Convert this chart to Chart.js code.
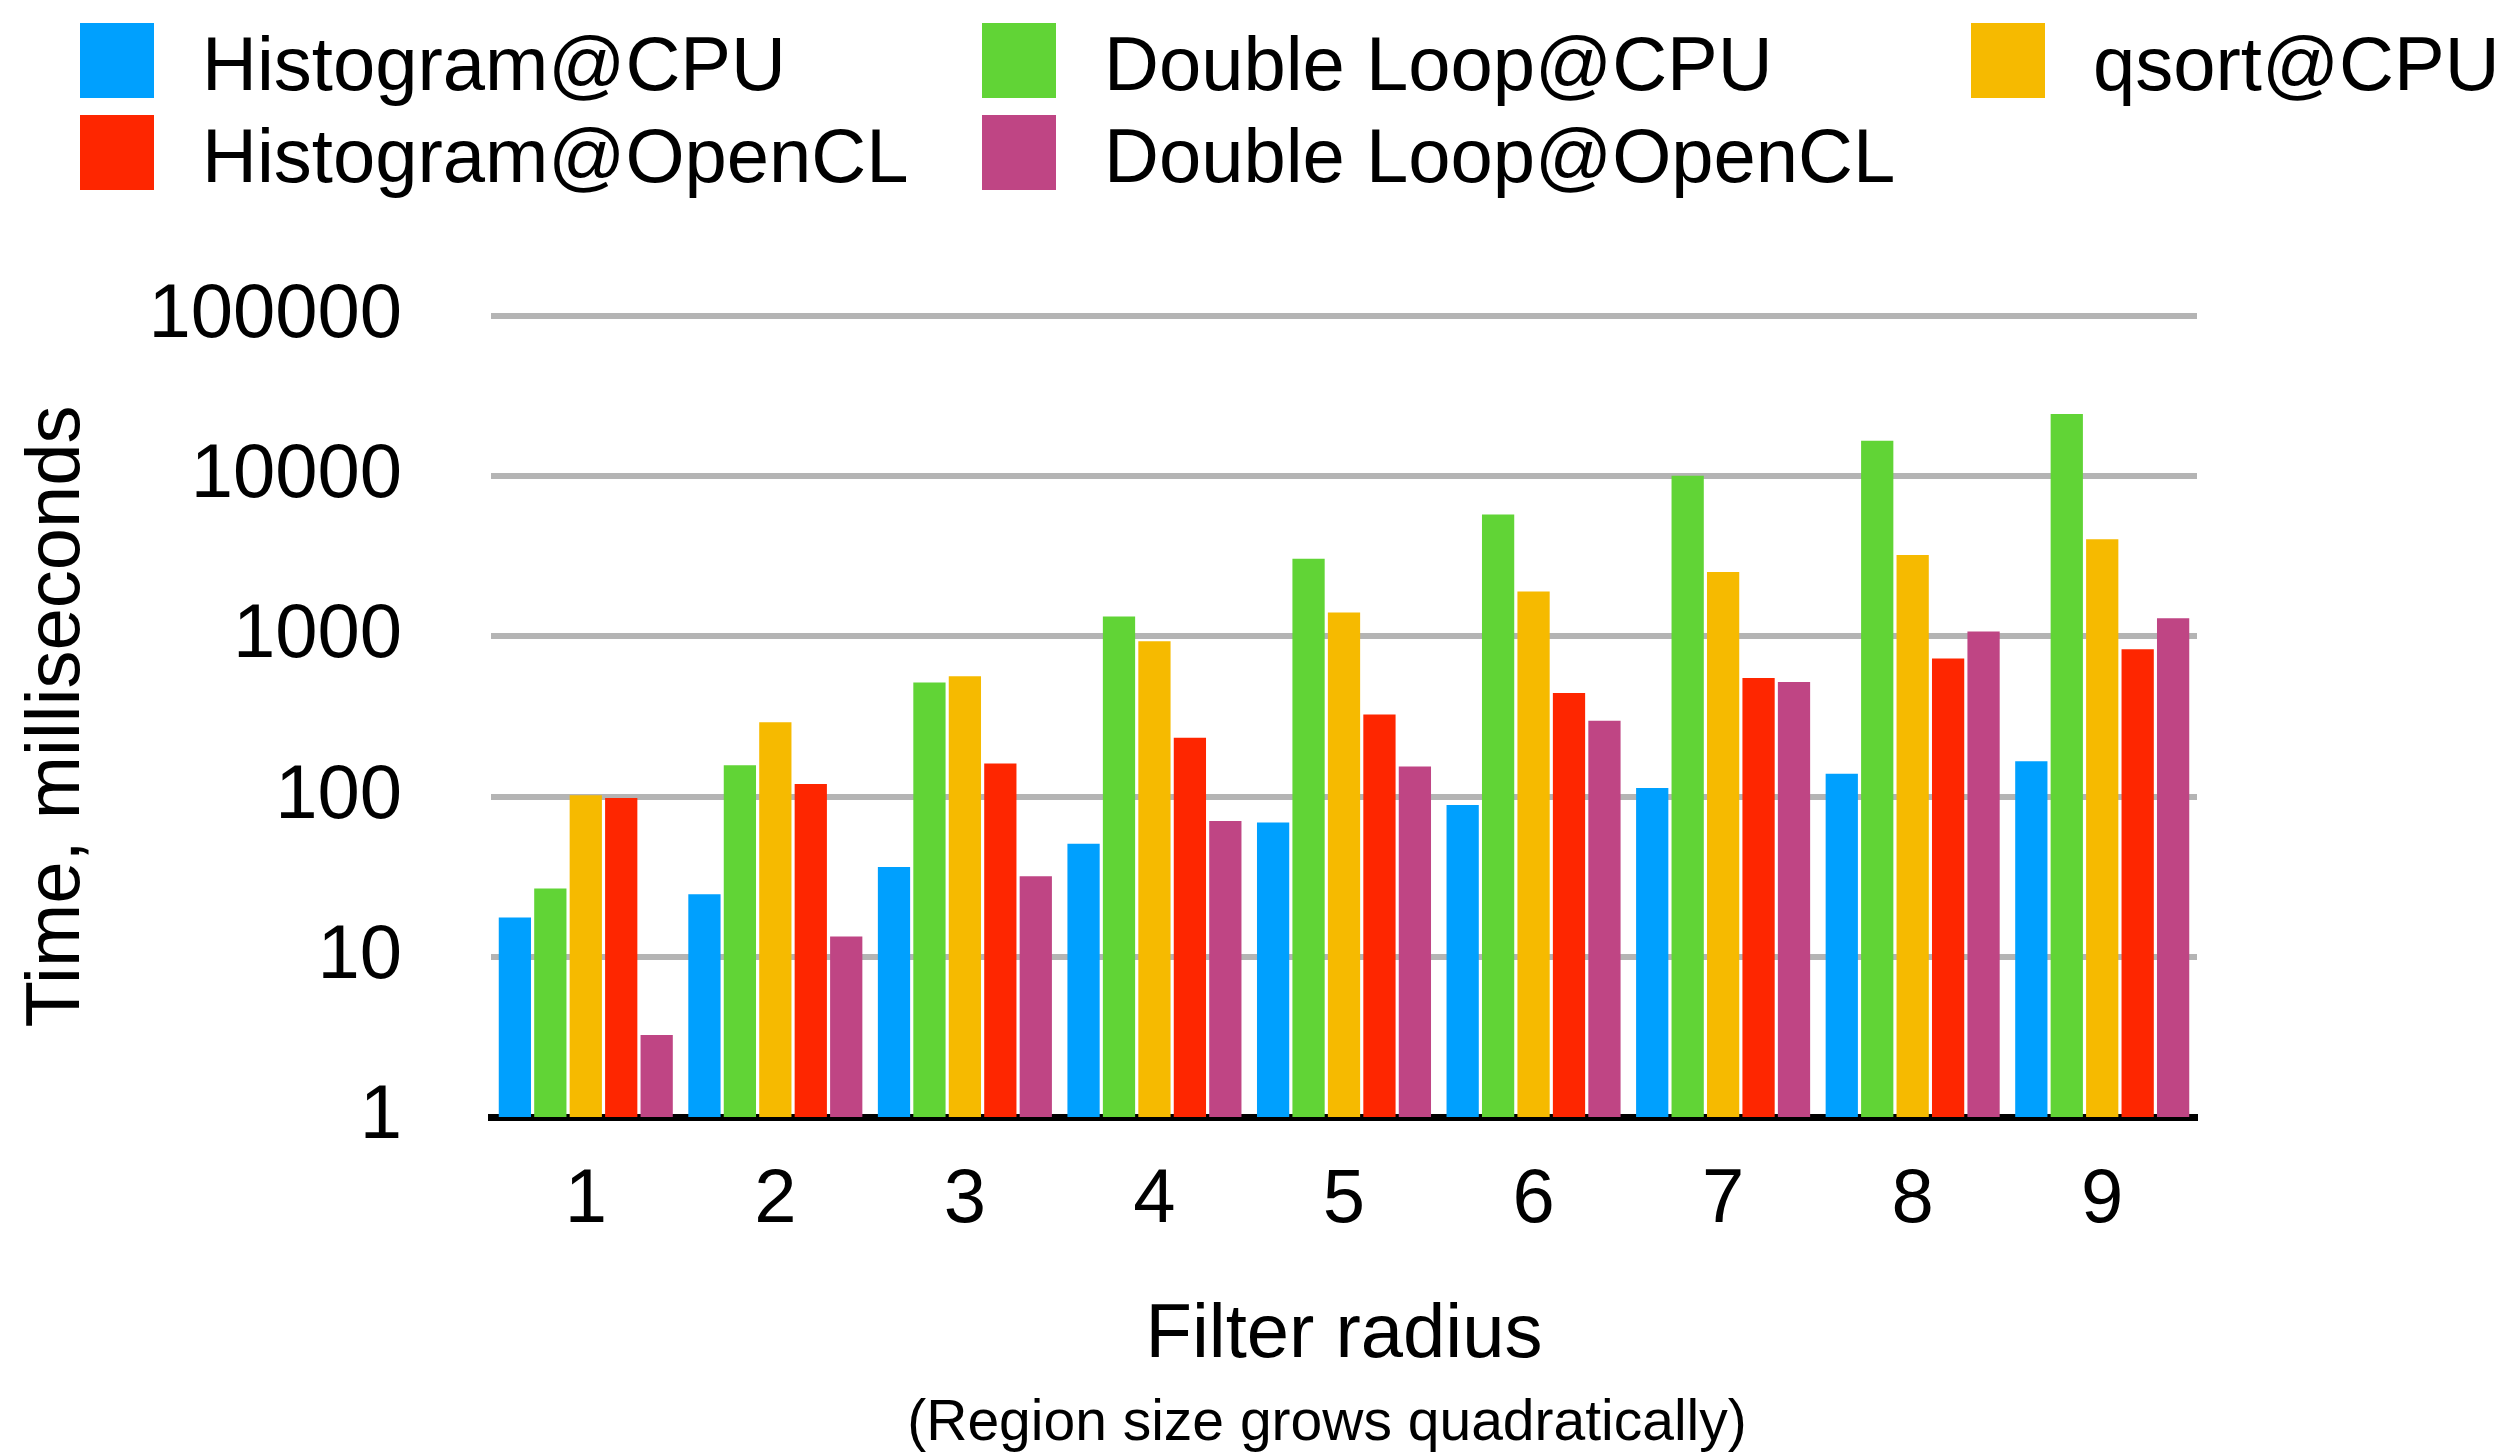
<!DOCTYPE html>
<html>
<head>
<meta charset="utf-8">
<script src="https://cdn.jsdelivr.net/npm/chart.js@4.4.1/dist/chart.umd.min.js"></script>
<style>
  html, body { margin: 0; padding: 0; background: #fff; }
  canvas { display: block; }
</style>
</head>
<body>
<canvas id="chart" width="2500" height="1454"></canvas>
<script>
// values (log scale, milliseconds)
const radii = ["1", "2", "3", "4", "5", "6", "7", "8", "9"];
const histogramCpu = [17.6, 24.6, 36.4, 50.8, 68.8, 88.7, 113, 139, 166];
const doubleLoopCpu = [26.7, 157, 516, 1333, 3050, 5770, 10080, 16640, 24420];
const qsortCpu = [102, 291, 563, 931, 1409, 1906, 2519, 3226, 4034];
const histogramOpenCL = [98, 120, 161, 233, 325, 444, 550, 727, 832];
const doubleLoopOpenCL = [3.25, 13.4, 31.8, 70.4, 154, 298, 520, 1074, 1300];
const yTicks = [1, 10, 100, 1000, 10000, 100000];
const subtitle = "(Region size grows quadratically)";

const FONT = "'Liberation Sans', Helvetica, Arial, sans-serif";

// legend laid out in fixed columns, like the original
const legendColumns = [80, 982, 1971];
const gridLegend = {
  id: "gridLegend",
  afterDraw(chart) {
    const ctx = chart.ctx;
    ctx.save();
    ctx.font = `76px ${FONT}`;
    ctx.textBaseline = "alphabetic";
    chart.data.datasets.forEach((ds, i) => {
      const x = legendColumns[i % 3];
      const y = 23 + Math.floor(i / 3) * 92;
      ctx.fillStyle = ds.backgroundColor;
      ctx.fillRect(x, y, 74, 75);
      ctx.fillStyle = "#000";
      ctx.fillText(ds.label, x + 122, y + 67);
    });
    // note under the axis title, a bit left of the plot centre as in the original
    ctx.font = `57px ${FONT}`;
    ctx.textAlign = "center";
    ctx.textBaseline = "middle";
    ctx.fillText(subtitle, 1327, 1424);
    ctx.restore();
  },
};

function bars(label, data, color) {
  return { label, data, backgroundColor: color, borderWidth: 0 };
}

new Chart(document.getElementById("chart"), {
  type: "bar",
  data: {
    labels: radii,
    datasets: [
      bars("Histogram@CPU", histogramCpu, "#00a0fe"),
      bars("Double Loop@CPU", doubleLoopCpu, "#61d436"),
      bars("qsort@CPU", qsortCpu, "#f6ba00"),
      bars("Histogram@OpenCL", histogramOpenCL, "#fe2600"),
      bars("Double Loop@OpenCL", doubleLoopOpenCL, "#bf4584"),
    ],
  },
  options: {
    responsive: false,
    animation: false,
    layout: { padding: { left: 0, right: 303, top: 316, bottom: 57 } },
    datasets: { bar: { categoryPercentage: 0.935, barPercentage: 0.91 } },
    plugins: {
      legend: { display: false },
      tooltip: { enabled: false },
    },
    scales: {
      x: {
        grid: { display: false, drawTicks: false },
        border: { display: true, color: "#000", width: 7 },
        ticks: { color: "#000", font: { family: FONT, size: 76 }, padding: 38 },
        title: {
          display: true,
          text: "Filter radius",
          color: "#000",
          font: { family: FONT, size: 76 },
          padding: { top: 0, bottom: 15 },
        },
        afterFit: (scale) => { scale.height = 280; },
      },
      y: {
        type: "logarithmic",
        min: 1,
        max: 100000,
        grid: { color: "#b4b4b4", lineWidth: 6, drawTicks: false },
        border: { display: false },
        afterBuildTicks: (scale) => { scale.ticks = yTicks.map((v) => ({ value: v })); },
        ticks: {
          color: "#000",
          font: { family: FONT, size: 76 },
          padding: 89,
          callback: (v) => String(v),
        },
        title: {
          display: true,
          text: "Time, milliseconds",
          color: "#000",
          font: { family: FONT, size: 76 },
          padding: { top: 12, bottom: 0 },
        },
        afterFit: (scale) => { scale.width = 491; },
      },
    },
  },
  plugins: [gridLegend],
});
</script>
</body>
</html>
